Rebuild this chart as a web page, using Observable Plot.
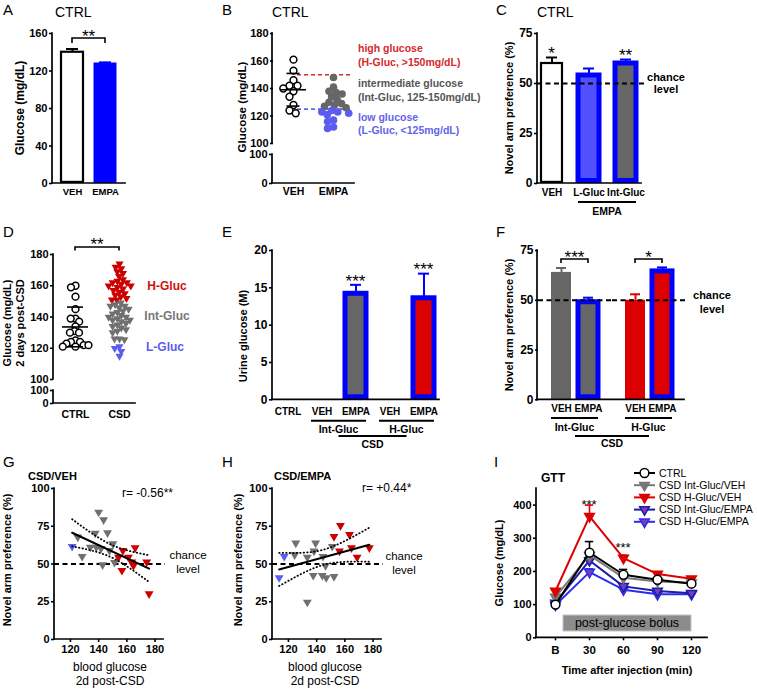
<!DOCTYPE html>
<html>
<head>
<meta charset="utf-8">
<script src="https://cdn.jsdelivr.net/npm/d3@7"></script>
<script src="https://cdn.jsdelivr.net/npm/@observablehq/plot@0.6"></script>
<style>
  html, body { margin: 0; padding: 0; background: #fff; }
  #root { position: relative; width: 757px; height: 689px; overflow: hidden; background: #fff; }
</style>
</head>
<body>
<div id="root"></div>
<script>
// ================= DATA =================
// A
const A_groups = ["VEH", "EMPA"];
const A_mean = [140, 128];
const A_sem = [3.5, 1.2];
// B
const B_groups = ["VEH", "EMPA"];
const B_veh = [161, 153, 146, 142, 142, 140, 138, 134, 128, 124, 122];
const B_empa = [148, 141, 138, 137, 136, 134, 132, 130, 129, 128, 127, 126, 124, 123, 123, 122, 121, 117, 116, 112, 111];
const GLUC_LOW = 125, GLUC_HIGH = 150;
// C
const C_groups = ["VEH", "L-Gluc", "Int-Gluc"];
const C_mean = [60, 54, 60];
const C_sem = [3, 3.5, 2];
// D
const D_groups = ["CTRL", "CSD"];
const D_ctrl = [160, 159, 153, 145, 139, 139, 137, 134, 131, 130, 130, 125, 124, 124, 123, 122, 121, 121, 122];
const D_csd = [174, 172, 171, 169, 168, 166, 164, 163, 162, 162, 161, 160, 160, 159, 158, 157, 156, 155, 154, 153, 152, 151, 151,
  149, 148, 147, 147, 146, 145, 144, 143, 142, 141, 140, 140, 139, 138, 138, 137, 136, 135, 134, 133, 132, 131, 130, 126, 126, 125.5,
  121, 120, 118, 115];
// E
const E_groups = ["CTRL", "Int-Gluc VEH", "Int-Gluc EMPA", "H-Gluc VEH", "H-Gluc EMPA"];
const E_tickLabels = ["CTRL", "VEH", "EMPA", "VEH", "EMPA"];
const E_gluc = ["CTRL", "Int-Gluc", "Int-Gluc", "H-Gluc", "H-Gluc"];
const E_mean = [0, 0, 14.2, 0, 13.6];
const E_sem = [0, 0, 1.2, 0, 3.3];
// F
const F_glucGroups = ["Int-Gluc", "H-Gluc"];
const F_treatments = ["VEH", "EMPA"];
const F_gluc = ["Int-Gluc", "Int-Gluc", "H-Gluc", "H-Gluc"];
const F_treat = ["VEH", "EMPA", "VEH", "EMPA"];
const F_mean = [64, 49, 50, 64.5];
const F_sem = [2.2, 2.3, 3, 2];
// G  (CSD/VEH)
const G_glucose = [140.0, 143.5, 137.6, 146.3, 125.2, 134.1, 138.3, 141.7, 150.1, 147.7, 128.3, 142.8, 151.3,
  121.2, 157.2, 165.9, 154.1, 161.1, 163.5, 164.7, 174.1, 156.5, 175.8];
const G_pref = [84.3, 79.3, 70.4, 70.6, 67.8, 61.1, 61.1, 60.3, 63.4, 58.9, 55.0, 49.5, 51.0,
  61.6, 58.9, 60.7, 54.5, 54.5, 51.2, 49.0, 51.2, 45.7, 30.3];
const G_group = ["Int", "Int", "Int", "Int", "Int", "Int", "Int", "Int", "Int", "Int", "Int", "Int", "Int",
  "L", "H", "H", "H", "H", "H", "H", "H", "H", "H"];
// H  (CSD/EMPA)
const H_glucose = [113.4, 117.0, 125.2, 124.4, 133.4, 139.3, 138.1, 144.5, 146.3, 151.1, 137.6, 144.0, 146.8, 152.3, 133.4,
  152.3, 156.9, 156.2, 163.3, 164.7, 168.7, 177.4];
const H_pref = [40.9, 55.0, 63.8, 56.1, 54.5, 63.8, 58.5, 55.0, 49.0, 61.6, 42.4, 42.4, 40.9, 41.7, 24.7,
  68.2, 75.5, 58.5, 69.5, 60.7, 54.5, 60.7];
const H_group = ["L", "L", "Int", "Int", "Int", "Int", "Int", "Int", "Int", "Int", "Int", "Int", "Int", "Int", "Int",
  "H", "H", "H", "H", "H", "H", "H"];
// I  (GTT)
const I_times = ["B", "30", "60", "90", "120"];
const I_series = ["CTRL", "CSD Int-Gluc/VEH", "CSD H-Gluc/VEH", "CSD Int-Gluc/EMPA", "CSD H-Gluc/EMPA"];
const I_ctrl = [100, 257, 190, 175, 163];
const I_ctrlSem = [4, 33, 16, 6, 5];
const I_intVeh = [123, 249, 181, 170, 166];
const I_intVehSem = [5, 12, 8, 5, 5];
const I_hVeh = [141, 366, 240, 192, 178];
const I_hVehSem = [5, 34, 9, 6, 5];
const I_intEmpa = [105, 233, 155, 141, 134];
const I_intEmpaSem = [4, 10, 6, 5, 4];
const I_hEmpa = [99, 198, 145, 131, 131];
const I_hEmpaSem = [5, 10, 5, 4, 4];

// ================= STYLE =================
const FONT = '"Liberation Sans", Arial, Helvetica, sans-serif';
const BLUE = "#0000ff", GRAY = "#666666", RED = "#dd0000", LBLUE = "#5c5cf0", LBLUE_BAR = "#5050ff";
const GLUC_FILL = {"Int-Gluc": GRAY, "H-Gluc": RED};
const PT_COLOR = {"L": "#5c5cf0", "Int": "#707070", "H": "#cc0000"};
const sqrt3 = Math.sqrt(3);
const triDown = {draw(ctx, size) {
  const y = Math.sqrt(size / (sqrt3 * 3));
  ctx.moveTo(0, 2 * y); ctx.lineTo(-sqrt3 * y, -y); ctx.lineTo(sqrt3 * y, -y); ctx.closePath();
}};

const root = document.getElementById("root");
const ov = d3.create("svg").attr("width", 757).attr("height", 689)
  .style("position", "absolute").style("left", "0px").style("top", "0px")
  .style("overflow", "visible").attr("font-family", FONT);
root.appendChild(ov.node());

function addPlot(frame, spec) {
  const {padL = 40, padR = 8, padT = 6, padB = 24, marks, ...rest} = spec;
  const svg = Plot.plot({
    width: frame.x1 - frame.x0 + padL + padR,
    height: frame.y1 - frame.y0 + padT + padB,
    marginLeft: padL, marginRight: padR, marginTop: padT, marginBottom: padB,
    style: {fontFamily: FONT, fontSize: "11px", fontWeight: "bold", color: "#000", background: "none", overflow: "visible"},
    ...rest,
    marks
  });
  svg.style.position = "absolute";
  svg.style.left = (frame.x0 - padL) + "px";
  svg.style.top = (frame.y0 - padT) + "px";
  root.insertBefore(svg, ov.node());
  return {svg, frame, ox: frame.x0 - padL, oy: frame.y0 - padT, padL};
}
const yAx = (ticks, extra = {}) => Plot.axisY({ticks, tickSize: 3, tickPadding: 2, fontSize: 11, fontWeight: "bold", strokeWidth: 1.6, label: null, ...extra});
const xCat = (extra = {}) => Plot.axisX({tickSize: 0, tickPadding: 5, fontSize: 10, fontWeight: "bold", label: null, ...extra});

function barSet(rows, st, {capInset = 5, fxKey = null} = {}) {
  const out = [];
  for (const d of rows) {
    const s = st(d);
    const base = fxKey ? {fx: fxKey} : {};
    const sw = s.sw || 0;
    out.push(Plot.barY([d], {...base, x: "g", y: "m", fill: s.fill, stroke: s.stroke || "none", strokeWidth: sw, insetBottom: sw / 2}));
    if (d.e > 0) {
      out.push(Plot.ruleX([d], {...base, x: "g", y1: "m", y2: q => q.m + q.e, stroke: s.err, strokeWidth: 2}));
      out.push(Plot.tickY([d], {...base, x: "g", y: q => q.m + q.e, stroke: s.err, strokeWidth: 2, insetLeft: capInset, insetRight: capInset}));
    }
  }
  return out;
}

// overlay helpers
function seg(x1, y1, x2, y2, w = 1.6, color = "#000", dash = null, cap = "butt") {
  const l = ov.append("line").attr("x1", x1).attr("y1", y1).attr("x2", x2).attr("y2", y2)
    .attr("stroke", color).attr("stroke-width", w).attr("stroke-linecap", cap);
  if (dash) l.attr("stroke-dasharray", dash);
}
function txt(str, x, y, o = {}) {
  const {size = 11, weight = "bold", anchor = "middle", color = "#000", rotate = 0, dy = "0.35em"} = o;
  const t = ov.append("text").attr("x", x).attr("y", y).attr("font-size", size).attr("font-weight", weight)
    .attr("text-anchor", anchor).attr("fill", color).text(str);
  if (dy) t.attr("dy", dy);
  if (rotate) t.attr("transform", `rotate(${rotate},${x},${y})`);
  return t;
}
function stars(str, cx, cy, size = 17) { txt(str, cx, cy + 0.57 * size, {size, weight: "normal", dy: null}); }
function bracket(xa, xb, y, str, drop = 4.5, gap = 6) {
  ov.append("path").attr("d", `M${xa},${y + drop}V${y}H${xb}V${y + drop}`).attr("fill", "none")
    .attr("stroke", "#000").attr("stroke-width", 1.6);
  stars(str, (xa + xb) / 2, y - gap);
}
function axisL(fr, y0 = fr.y0, y1 = fr.y1) { seg(fr.x0, y0, fr.x0, y1, 1.7, "#000", null, "square"); }
function axisB(fr, x1 = fr.x1) { seg(fr.x0, fr.y1, x1, fr.y1, 1.7, "#000", null, "square"); }
const sx = (p, v) => { const s = p.svg.scale("x"); return p.ox + s.apply(v) + (s.bandwidth || 0) / 2; };
const sy = (p, v) => p.oy + p.svg.scale("y").apply(v);
const bStart = (p, v) => p.ox + p.svg.scale("x").apply(v);
const bEnd = (p, v) => { const s = p.svg.scale("x"); return p.ox + s.apply(v) + s.bandwidth; };
const sfx = (p, g) => { const s = p.svg.scale("fx"); return p.ox + s.apply(g) + s.bandwidth / 2; };
const fxIn = (p, g, t) => { const f = p.svg.scale("fx"), s = p.svg.scale("x"); return p.ox + f.apply(g) - p.padL + s.apply(t) + s.bandwidth / 2; };

function tq975(df) {
  const z = 1.959964;
  return z + (z ** 3 + z) / (4 * df) + (5 * z ** 5 + 16 * z ** 3 + 3 * z) / (96 * df * df)
    + (3 * z ** 7 + 19 * z ** 5 + 17 * z ** 3 - 15 * z) / (384 * df ** 3);
}
function ciBand(xs, ys) {
  const n = xs.length, mx = d3.mean(xs), my = d3.mean(ys);
  let sxx = 0, sxy = 0;
  for (let i = 0; i < n; i++) { sxx += (xs[i] - mx) ** 2; sxy += (xs[i] - mx) * (ys[i] - my); }
  const b = sxy / sxx, a = my - b * mx;
  let sse = 0;
  for (let i = 0; i < n; i++) sse += (ys[i] - a - b * xs[i]) ** 2;
  const s = Math.sqrt(sse / (n - 2)), t = tq975(n - 2);
  const [lo, hi] = d3.extent(xs);
  return d3.range(0, 41).map(k => {
    const x = lo + (hi - lo) * k / 40, f = a + b * x, h = t * s * Math.sqrt(1 / n + (x - mx) ** 2 / sxx);
    return {x, lo: f - h, hi: f + h};
  });
}

const STY = {
  white: {fill: "#fff", stroke: "#000", sw: 2.2, err: "#000"},
  blueSolid: {fill: BLUE, stroke: BLUE, sw: 1, err: BLUE}
};

// ================= PANEL A =================
const frA = {x0: 52, x1: 125, y0: 33, y1: 183};
const A_rows = A_groups.map((g, i) => ({g, m: A_mean[i], e: A_sem[i]}));
const pA = addPlot(frA, {
  padB: 22,
  x: {type: "band", domain: A_groups, paddingInner: 0.33, paddingOuter: 0.27},
  y: {domain: [0, 160]},
  marks: [
    ...barSet(A_rows, d => d.g === "VEH" ? STY.white : STY.blueSolid, {capInset: 5}),
    yAx([0, 40, 80, 120, 160]),
    xCat({fontSize: 9.5, tickPadding: 5})
  ]
});

// ================= PANEL B =================
const frB = {x0: 272, x1: 354, y0: 33, y1: 143};
const frB2 = {x0: 272, x1: 354, y0: 154, y1: 183};
const B_vehRows = B_veh.map(v => ({g: "VEH", v}));
const B_empaRows = B_empa.map(v => ({g: "EMPA", v}));
const bMean = d3.mean(B_veh), bSD = d3.deviation(B_veh);
const pB = addPlot(frB, {
  padB: 6,
  fx: {domain: B_groups, paddingInner: 0, paddingOuter: 0.025, axis: null, label: null},
  y: {domain: [100, 180]},
  marks: [
    Plot.ruleY([GLUC_HIGH], {fx: () => "EMPA", stroke: "#d42a2a", strokeWidth: 1.6, strokeDasharray: "4,3", insetLeft: -16}),
    Plot.ruleY([GLUC_LOW], {fx: () => "EMPA", stroke: "#6464e8", strokeWidth: 1.6, strokeDasharray: "4,3", insetLeft: -16}),
    Plot.dot(B_vehRows, Plot.dodgeX({anchor: "middle", padding: 0}, {y: "v", fx: "g", r: 3.4, fill: "#fff", stroke: "#000", strokeWidth: 1.5})),
    Plot.dot(B_empaRows, Plot.dodgeX({anchor: "middle", padding: -1.5}, {y: "v", fx: "g", r: 3.8, fill: d => d.v < GLUC_LOW ? LBLUE : GRAY})),
    Plot.tickY([{g: "VEH", y: bMean}], {fx: "g", y: "y", insetLeft: 7, insetRight: 7, strokeWidth: 1.6}),
    Plot.ruleX([{g: "VEH", y1: bMean - bSD, y2: bMean + bSD}], {fx: "g", y1: "y1", y2: "y2", strokeWidth: 1.6}),
    Plot.tickY([{g: "VEH", y: bMean - bSD}, {g: "VEH", y: bMean + bSD}], {fx: "g", y: "y", insetLeft: 13.5, insetRight: 13.5, strokeWidth: 1.6}),
    yAx([100, 120, 140, 160, 180])
  ]
});
const pB2 = addPlot(frB2, {
  padB: 22,
  x: {type: "band", domain: B_groups, paddingInner: 0, paddingOuter: 0.025},
  y: {domain: [0, 100]},
  marks: [
    Plot.text(B_groups, {x: d => d, y: 0, text: () => ""}),
    yAx([0, 100]),
    xCat({fontSize: 10.5, tickPadding: 4})
  ]
});

// ================= PANEL C =================
const frC = {x0: 537, x1: 641, y0: 33, y1: 183};
const C_rows = C_groups.map((g, i) => ({g, m: C_mean[i], e: C_sem[i]}));
const C_style = {
  "VEH": STY.white,
  "L-Gluc": {fill: LBLUE_BAR, stroke: BLUE, sw: 5, err: BLUE},
  "Int-Gluc": {fill: GRAY, stroke: BLUE, sw: 5, err: BLUE}
};
const pC = addPlot(frC, {
  padB: 22,
  x: {type: "band", domain: C_groups, paddingInner: 0.43, paddingOuter: 0.12},
  y: {domain: [0, 75]},
  marks: [
    ...barSet(C_rows, d => C_style[d.g], {capInset: 5}),
    Plot.ruleY([50], {strokeDasharray: "5,3.5", strokeWidth: 2, insetRight: -3}),
    yAx([0, 25, 50, 75], {fontSize: 12}),
    xCat({fontSize: 10, tickPadding: 5})
  ]
});

// ================= PANEL D =================
const frD = {x0: 53, x1: 141, y0: 254, y1: 379};
const frD2 = {x0: 53, x1: 141, y0: 390, y1: 403};
const D_ctrlRows = D_ctrl.map(v => ({g: "CTRL", v}));
const D_csdRows = D_csd.map(v => ({g: "CSD", v}));
const dMean = d3.mean(D_ctrl), dSD = d3.deviation(D_ctrl);
const pD = addPlot(frD, {
  padB: 6,
  fx: {domain: D_groups, paddingInner: 0, paddingOuter: 0, axis: null, label: null},
  y: {domain: [100, 180]},
  marks: [
    Plot.dot(D_ctrlRows, Plot.dodgeX({anchor: "middle", padding: -2}, {y: "v", fx: "g", r: 3.4, fill: "#fff", stroke: "#000", strokeWidth: 1.5})),
    Plot.dot(D_csdRows, Plot.dodgeX({anchor: "middle", padding: -1}, {y: "v", fx: "g", r: 3.0, symbol: triDown,
      fill: d => d.v > GLUC_HIGH ? PT_COLOR.H : d.v < GLUC_LOW ? PT_COLOR.L : PT_COLOR.Int})),
    Plot.tickY([{g: "CTRL", y: dMean}], {fx: "g", y: "y", insetLeft: 9, insetRight: 9, strokeWidth: 1.6}),
    Plot.ruleX([{g: "CTRL", y1: dMean - dSD, y2: dMean + dSD}], {fx: "g", y1: "y1", y2: "y2", strokeWidth: 1.6}),
    Plot.tickY([{g: "CTRL", y: dMean - dSD}, {g: "CTRL", y: dMean + dSD}], {fx: "g", y: "y", insetLeft: 14, insetRight: 14, strokeWidth: 1.6}),
    yAx([100, 120, 140, 160, 180])
  ]
});
const pD2 = addPlot(frD2, {
  padB: 22,
  x: {type: "band", domain: D_groups, paddingInner: 0, paddingOuter: 0},
  y: {domain: [0, 100]},
  marks: [
    Plot.text(D_groups, {x: d => d, y: 0, text: () => ""}),
    yAx([0, 100]),
    xCat({fontSize: 10.5, tickPadding: 7})
  ]
});

// ================= PANEL E =================
const frE = {x0: 272, x1: 439, y0: 250, y1: 399.3};
const E_rows = E_groups.map((g, i) => ({g, gl: E_gluc[i], m: E_mean[i], e: E_sem[i]}));
const pE = addPlot(frE, {
  padB: 24,
  x: {type: "band", domain: E_groups, paddingInner: 0.38, paddingOuter: 0.145},
  y: {domain: [0, 20]},
  marks: [
    ...barSet(E_rows.filter(d => d.m > 0), d => ({fill: GLUC_FILL[d.gl], stroke: BLUE, sw: 5, err: BLUE}), {capInset: 5}),
    yAx([0, 5, 10, 15, 20], {fontSize: 12}),
    xCat({tickFormat: d => E_tickLabels[E_groups.indexOf(d)], fontSize: 10, tickPadding: 8})
  ]
});

// ================= PANEL F =================
const frF = {x0: 537, x1: 686, y0: 250, y1: 399.3};
const F_rows = F_gluc.map((gl, i) => ({gl, g: F_treat[i], m: F_mean[i], e: F_sem[i]}));
const pF = addPlot(frF, {
  padB: 24,
  fx: {domain: F_glucGroups, paddingInner: 0, paddingOuter: 0, axis: null, label: null},
  x: {type: "band", domain: F_treatments, paddingInner: 0.25, paddingOuter: 0.455},
  y: {domain: [0, 75]},
  marks: [
    ...barSet(F_rows, d => d.g === "VEH"
      ? {fill: GLUC_FILL[d.gl], stroke: "none", sw: 0, err: GLUC_FILL[d.gl]}
      : {fill: GLUC_FILL[d.gl], stroke: BLUE, sw: 5, err: BLUE}, {capInset: 5, fxKey: "gl"}),
    Plot.ruleY([50], {strokeDasharray: "5,3.5", strokeWidth: 2, insetRight: -1}),
    yAx([0, 25, 50, 75], {fontSize: 12}),
    xCat({fontSize: 10, tickPadding: 5})
  ]
});

// ================= PANEL G & H =================
function scatterPanel(frame, xs, ys, gs) {
  const rows = xs.map((x, i) => ({x, y: ys[i], g: gs[i]}));
  const band = ciBand(xs, ys);
  return addPlot(frame, {
    padB: 22,
    x: {domain: [108.7, 186]},
    y: {domain: [0, 100]},
    marks: [
      Plot.ruleY([50], {strokeDasharray: "5,3.5", strokeWidth: 2, insetRight: -2}),
      Plot.dot(rows, {x: "x", y: "y", symbol: triDown, r: 3.3, fill: d => PT_COLOR[d.g]}),
      Plot.linearRegressionY(rows, {x: "x", y: "y", ci: 0, stroke: "#000", strokeWidth: 2}),
      Plot.line(band, {x: "x", y: "lo", strokeDasharray: "0.5,3", strokeLinecap: "round", strokeWidth: 1.8}),
      Plot.line(band, {x: "x", y: "hi", strokeDasharray: "0.5,3", strokeLinecap: "round", strokeWidth: 1.8}),
      yAx([0, 25, 50, 75, 100]),
      Plot.axisX({ticks: [120, 140, 160, 180], tickSize: 3, tickPadding: 3, fontSize: 11, fontWeight: "bold", strokeWidth: 1.6, label: null})
    ]
  });
}
const frG = {x0: 54, x1: 163, y0: 488, y1: 639};
const frH = {x0: 272, x1: 381, y0: 488, y1: 639};
const pG = scatterPanel(frG, G_glucose, G_pref, G_group);
const pH = scatterPanel(frH, H_glucose, H_pref, H_group);

// ================= PANEL I =================
const frI = {x0: 536, x1: 709, y0: 488, y1: 637.3};
const I_values = {
  "CTRL": [I_ctrl, I_ctrlSem],
  "CSD Int-Gluc/VEH": [I_intVeh, I_intVehSem],
  "CSD H-Gluc/VEH": [I_hVeh, I_hVehSem],
  "CSD Int-Gluc/EMPA": [I_intEmpa, I_intEmpaSem],
  "CSD H-Gluc/EMPA": [I_hEmpa, I_hEmpaSem]
};
const I_style = {
  "CTRL": {stroke: "#000", fill: "#fff", symbol: "circle", r: 4.4},
  "CSD Int-Gluc/VEH": {stroke: "#777", fill: "#777", symbol: triDown, r: 3.6},
  "CSD H-Gluc/VEH": {stroke: "#dd0000", fill: "#dd0000", symbol: triDown, r: 3.6},
  "CSD Int-Gluc/EMPA": {stroke: "#1c1ca8", fill: "#7a3fb5", symbol: triDown, r: 3.6},
  "CSD H-Gluc/EMPA": {stroke: "#2b2bf2", fill: "#7a3fb5", symbol: triDown, r: 3.6}
};
const I_order = ["CSD H-Gluc/EMPA", "CSD Int-Gluc/EMPA", "CSD Int-Gluc/VEH", "CSD H-Gluc/VEH", "CTRL"];
const I_bw = (frI.x1 - frI.x0) / I_times.length;
const I_cap = (I_bw - 9) / 2;
const I_marks = [];
for (const s of I_order) {
  const [m, e] = I_values[s];
  const rows = I_times.map((t, i) => ({t, m: m[i], e: e[i]}));
  const st = I_style[s];
  I_marks.push(
    Plot.ruleX(rows, {x: "t", y1: "m", y2: d => d.m + d.e, stroke: st.stroke, strokeWidth: 1.6}),
    Plot.tickY(rows, {x: "t", y: d => d.m + d.e, stroke: st.stroke, strokeWidth: 1.6, insetLeft: I_cap, insetRight: I_cap}),
    Plot.line(rows, {x: "t", y: "m", stroke: st.stroke, strokeWidth: 2}),
    Plot.dot(rows, {x: "t", y: "m", symbol: st.symbol, r: st.r, fill: st.fill, stroke: st.stroke, strokeWidth: 1.5})
  );
}
const pI = addPlot(frI, {
  padB: 24,
  x: {type: "band", domain: I_times, paddingInner: 0, paddingOuter: 0},
  y: {domain: [0, 450]},
  marks: [
    ...I_marks,
    yAx([0, 100, 200, 300, 400]),
    Plot.axisX({tickSize: 3, tickPadding: 5, fontSize: 11.5, fontWeight: "bold", strokeWidth: 1.6, label: null})
  ]
});

// ================= OVERLAY: axes lines =================
axisL(frA); axisB(frA);
axisL(frB); axisL(frB2); axisB(frB2);
axisL(frC); axisB(frC);
axisL(frD); axisL(frD2); axisB(frD2, 135);
axisL(frE); axisB(frE);
axisL(frF); axisB(frF, 684);
axisL(frG); axisB(frG);
axisL(frH); axisB(frH);
axisL(frI); axisB(frI, 707);

// ================= OVERLAY: annotations =================
const LET = {size: 15, weight: "normal", anchor: "start", dy: null};
txt("A", 3, 15, LET); txt("B", 222, 15, LET); txt("C", 496, 15, LET);
txt("D", 3, 237, LET); txt("E", 222, 237, LET); txt("F", 496, 237, LET);
txt("G", 3, 467, LET); txt("H", 222, 467, LET); txt("I", 494, 467, LET);
const TT = {size: 14, weight: "normal", anchor: "start", dy: null};
txt("CTRL", 55, 16.7, TT); txt("CTRL", 272, 16.7, TT); txt("CTRL", 537, 16.7, TT);
txt("CSD/VEH", 28, 480, {size: 11, anchor: "start", dy: null});
txt("CSD/EMPA", 274, 480, {size: 11, anchor: "start", dy: null});
txt("GTT", 541, 482, {size: 12, anchor: "start", dy: null});

txt("Glucose (mg/dL)", 20, 108, {size: 12, rotate: -90});
txt("Glucose (mg/dL)", 241.5, 107, {size: 11.5, rotate: -90});
txt("Novel arm preference (%)", 509, 108, {size: 11, rotate: -90});
txt("Glucose (mg/dL)", 7.5, 323, {size: 11, rotate: -90});
txt("2 days post-CSD", 20, 323, {size: 11, rotate: -90});
txt("Urine glucose (M)", 243, 336, {size: 11, rotate: -90});
txt("Novel arm preference (%)", 509, 325, {size: 11, rotate: -90});
txt("Novel arm preference (%)", 7.5, 560, {size: 11, rotate: -90});
txt("Novel arm preference (%)", 238, 560, {size: 11, rotate: -90});
txt("Glucose (mg/dL)", 499, 563, {size: 11, rotate: -90});

// A
bracket(sx(pA, "VEH"), sx(pA, "EMPA"), 38, "**", 5);
// B right texts
const BT = {size: 10.5, anchor: "start"};
txt("high glucose", 358, 48, {...BT, color: "#d42a2a"});
txt("(H-Gluc, >150mg/dL)", 358, 62, {...BT, color: "#d42a2a"});
txt("intermediate glucose", 358, 83, {...BT, color: "#555"});
txt("(Int-Gluc, 125-150mg/dL)", 358, 97, {...BT, color: "#555"});
txt("low glucose", 358, 117, {...BT, color: "#6464e8"});
txt("(L-Gluc, <125mg/dL)", 358, 130, {...BT, color: "#6464e8"});
// C
C_rows.forEach(d => {
  const s = d.g === "VEH" ? "*" : d.g === "Int-Gluc" ? "**" : null;
  if (s) stars(s, sx(pC, d.g), sy(pC, d.m + d.e) - 8);
});
txt("chance", 666, 77); txt("level", 666, 89);
{
  const a = bStart(pC, "L-Gluc"), b = bEnd(pC, "Int-Gluc");
  seg(a, 202, b, 202, 2);
  txt("EMPA", (a + b) / 2, 211.5, {size: 10.5});
}
// D
bracket(sfx(pD, "CTRL"), sfx(pD, "CSD"), 247, "**", 3.5, 7);
txt("H-Gluc", 167, 286, {size: 12, color: "#d01010"});
txt("Int-Gluc", 167, 316, {size: 12, color: "#777"});
txt("L-Gluc", 165, 347, {size: 12, color: "#5c5cf0"});
// E
E_rows.filter(d => d.m > 0).forEach(d => stars("***", sx(pE, d.g), sy(pE, d.m + d.e) - 7.5));
{
  const iA = bStart(pE, "Int-Gluc VEH"), iB = bEnd(pE, "Int-Gluc EMPA");
  const hA = bStart(pE, "H-Gluc VEH"), hB = bEnd(pE, "H-Gluc EMPA");
  seg(iA, 420.7, iB, 420.7, 2); txt("Int-Gluc", (iA + iB) / 2, 429.5, {size: 10.5});
  seg(hA, 420.7, hB, 420.7, 2); txt("H-Gluc", (hA + hB) / 2, 429.5, {size: 10.5});
  const c1 = (sx(pE, "Int-Gluc VEH") + sx(pE, "Int-Gluc EMPA")) / 2, c2 = (sx(pE, "H-Gluc VEH") + sx(pE, "H-Gluc EMPA")) / 2;
  seg(c1, 436, c2, 436, 2); txt("CSD", (c1 + c2) / 2, 444.5, {size: 10.5});
}
// F
bracket(fxIn(pF, "Int-Gluc", "VEH"), fxIn(pF, "Int-Gluc", "EMPA"), 259, "***", 4);
bracket(fxIn(pF, "H-Gluc", "VEH"), fxIn(pF, "H-Gluc", "EMPA"), 259, "*", 4);
txt("chance", 712, 295); txt("level", 712, 309);
{
  const bw = pF.svg.scale("x").bandwidth;
  for (const g of F_glucGroups) {
    const a = fxIn(pF, g, "VEH") - bw / 2, b = fxIn(pF, g, "EMPA") + bw / 2;
    seg(a, 418, b, 418, 2); txt(g, (a + b) / 2, 427, {size: 10.5});
  }
  const c1 = sfx(pF, "Int-Gluc"), c2 = sfx(pF, "H-Gluc");
  seg(c1, 436, c2, 436, 2); txt("CSD", (c1 + c2) / 2, 443.5, {size: 10.5});
}
// G
const NR = {size: 11.5, weight: "normal"};
txt("r= -0.56**", 122, 493, {...NR, size: 12, anchor: "start"});
txt("chance", 188, 554.5, NR); txt("level", 188, 568.5, NR);
txt("blood glucose", 110, 667, {...NR, size: 12}); txt("2d post-CSD", 110, 680.5, {...NR, size: 12});
// H
txt("r= +0.44*", 362, 488, {...NR, size: 12, anchor: "start"});
txt("chance", 404, 556, NR); txt("level", 404, 570, NR);
txt("blood glucose", 325, 667, {...NR, size: 12}); txt("2d post-CSD", 325, 680.5, {...NR, size: 12});
// I
stars("***", sx(pI, "30"), sy(pI, 410), 13);
stars("***", sx(pI, "60"), sy(pI, 278), 13);
ov.append("rect").attr("x", 563).attr("y", 615).attr("width", 128).attr("height", 16)
  .attr("fill", "#8c8c8c").attr("stroke", "#c4c4c4").attr("stroke-width", 1);
txt("post-glucose bolus", 627, 623, {size: 12.5, weight: "normal"});
txt("Time after injection (min)", 627, 670, {size: 11});
I_series.forEach((s, i) => {
  const y = 473 + i * 12.2, st = I_style[s];
  seg(634, y, 655, y, 2, st.stroke);
  const sym = st.symbol === "circle" ? d3.symbolCircle : triDown;
  ov.append("path").attr("d", d3.symbol(sym, Math.PI * st.r * st.r)())
    .attr("transform", `translate(644.5,${y})`).attr("fill", st.fill).attr("stroke", st.stroke).attr("stroke-width", 1.5);
  txt(s, 659, y, {size: 10.5, weight: "normal", anchor: "start"});
});
</script>
</body>
</html>
